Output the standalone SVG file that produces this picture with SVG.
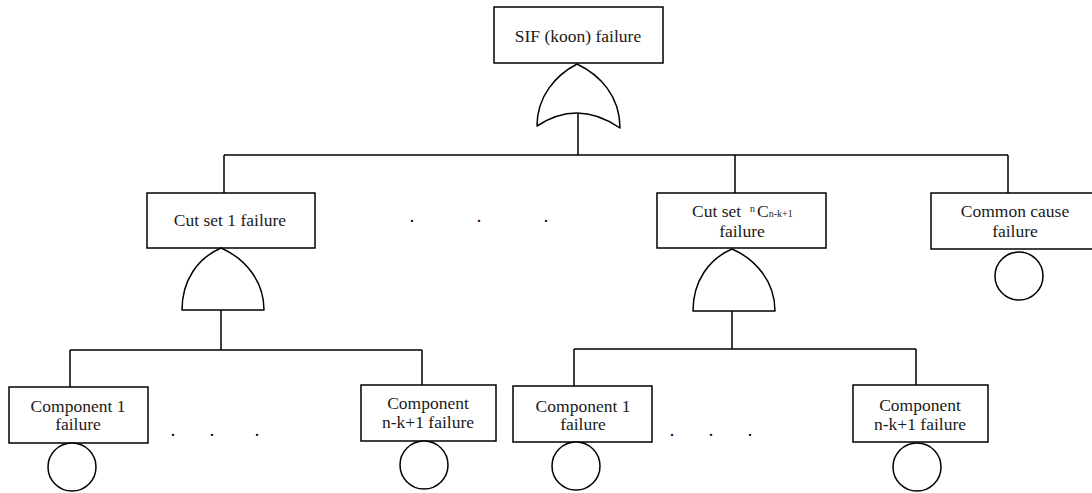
<svg xmlns="http://www.w3.org/2000/svg" width="1092" height="493" viewBox="0 0 1092 493">
  <style>
    .box { fill: #ffffff; stroke: #000000; stroke-width: 1.5; }
    .gate { fill: #ffffff; stroke: #000000; stroke-width: 1.5; stroke-linejoin: round; }
    .event { fill: #ffffff; stroke: #000000; stroke-width: 1.5; }
    .wire { fill: none; stroke: #000000; stroke-width: 1.5; }
    .lbl { font-family: "Liberation Serif", "Times New Roman", serif; font-size: 17.5px; fill: #1a1a1a; text-anchor: middle; }
    .lbl-start { font-family: "Liberation Serif", "Times New Roman", serif; font-size: 17.5px; fill: #1a1a1a; }
    .small { font-size: 10px; }
    .dot { font-family: "Liberation Serif", "Times New Roman", serif; font-size: 18px; fill: #000000; text-anchor: middle; }
  </style>

  <!-- connectors -->
  <g id="connectors">
    <!-- top OR gate to level 1 -->
    <path class="wire" d="M578,113 V155 M224,155 H1008 M224,155 V193 M735,155 V193 M1008,155 V193"/>
    <!-- cut set 1 AND gate to components -->
    <path class="wire" d="M221,310 V350 M70,350 H422 M70,350 V387 M422,350 V385"/>
    <!-- cut set nC AND gate to components -->
    <path class="wire" d="M732,311 V349 M574,349 H916 M574,349 V386 M916,349 V385"/>
  </g>

  <!-- top event -->
  <g id="top-event">
    <rect class="box" x="494" y="7" width="169" height="56"/>
    <text class="lbl" x="578" y="42">SIF (koon) failure</text>
    <path class="gate" d="M577,64 C556,75 537,96 537,126 Q578,99 620,128 C620,96 600,75 577,64 Z"/>
  </g>

  <!-- cut set 1 -->
  <g id="cutset-1">
    <rect class="box" x="147" y="193" width="168" height="55"/>
    <text class="lbl" x="230" y="226">Cut set 1 failure</text>
    <path class="gate" d="M182,310 C182,280 198,258 221,248 C244,258 264,280 264,310 Z"/>
  </g>

  <!-- cut set nC(n-k+1) -->
  <g id="cutset-n">
    <rect class="box" x="657" y="193" width="169" height="55"/>
    <text class="lbl-start" y="217"><tspan x="692">Cut set</tspan><tspan class="small" x="750" dy="-5">n</tspan><tspan x="757" dy="5">C</tspan><tspan class="small">n-k+1</tspan></text>
    <text class="lbl" x="742" y="237">failure</text>
    <path class="gate" d="M693,311 C693,281 709,259 732,249 C755,259 775,281 775,311 Z"/>
  </g>

  <!-- common cause -->
  <g id="common-cause">
    <rect class="box" x="931" y="193" width="170" height="56"/>
    <text class="lbl" x="1015" y="217">Common cause</text>
    <text class="lbl" x="1015" y="237">failure</text>
    <circle class="event" cx="1019" cy="276" r="24"/>
  </g>

  <!-- basic events under cut set 1 -->
  <g id="cs1-component-1">
    <rect class="box" x="9" y="387" width="139" height="56"/>
    <text class="lbl" x="78" y="412">Component 1</text>
    <text class="lbl" x="78" y="430">failure</text>
    <circle class="event" cx="72" cy="467" r="24"/>
  </g>
  <g id="cs1-component-nk1">
    <rect class="box" x="361" y="385" width="135" height="56"/>
    <text class="lbl" x="428" y="409">Component</text>
    <text class="lbl" x="428" y="428">n-k+1 failure</text>
    <circle class="event" cx="424" cy="465" r="24"/>
  </g>

  <!-- basic events under cut set nC -->
  <g id="csn-component-1">
    <rect class="box" x="513" y="386" width="139" height="56"/>
    <text class="lbl" x="583" y="412">Component 1</text>
    <text class="lbl" x="583" y="430">failure</text>
    <circle class="event" cx="576" cy="466" r="24"/>
  </g>
  <g id="csn-component-nk1">
    <rect class="box" x="853" y="385" width="135" height="57"/>
    <text class="lbl" x="920" y="411">Component</text>
    <text class="lbl" x="920" y="430">n-k+1 failure</text>
    <circle class="event" cx="917" cy="467" r="24"/>
  </g>

  <!-- ellipsis dots -->
  <g id="ellipses">
    <text class="dot" x="412" y="222">.</text>
    <text class="dot" x="479" y="222">.</text>
    <text class="dot" x="546" y="222">.</text>
    <text class="dot" x="173" y="436">.</text>
    <text class="dot" x="212" y="436">.</text>
    <text class="dot" x="257" y="436">.</text>
    <text class="dot" x="672" y="436">.</text>
    <text class="dot" x="711" y="436">.</text>
    <text class="dot" x="750" y="436">.</text>
  </g>
</svg>
